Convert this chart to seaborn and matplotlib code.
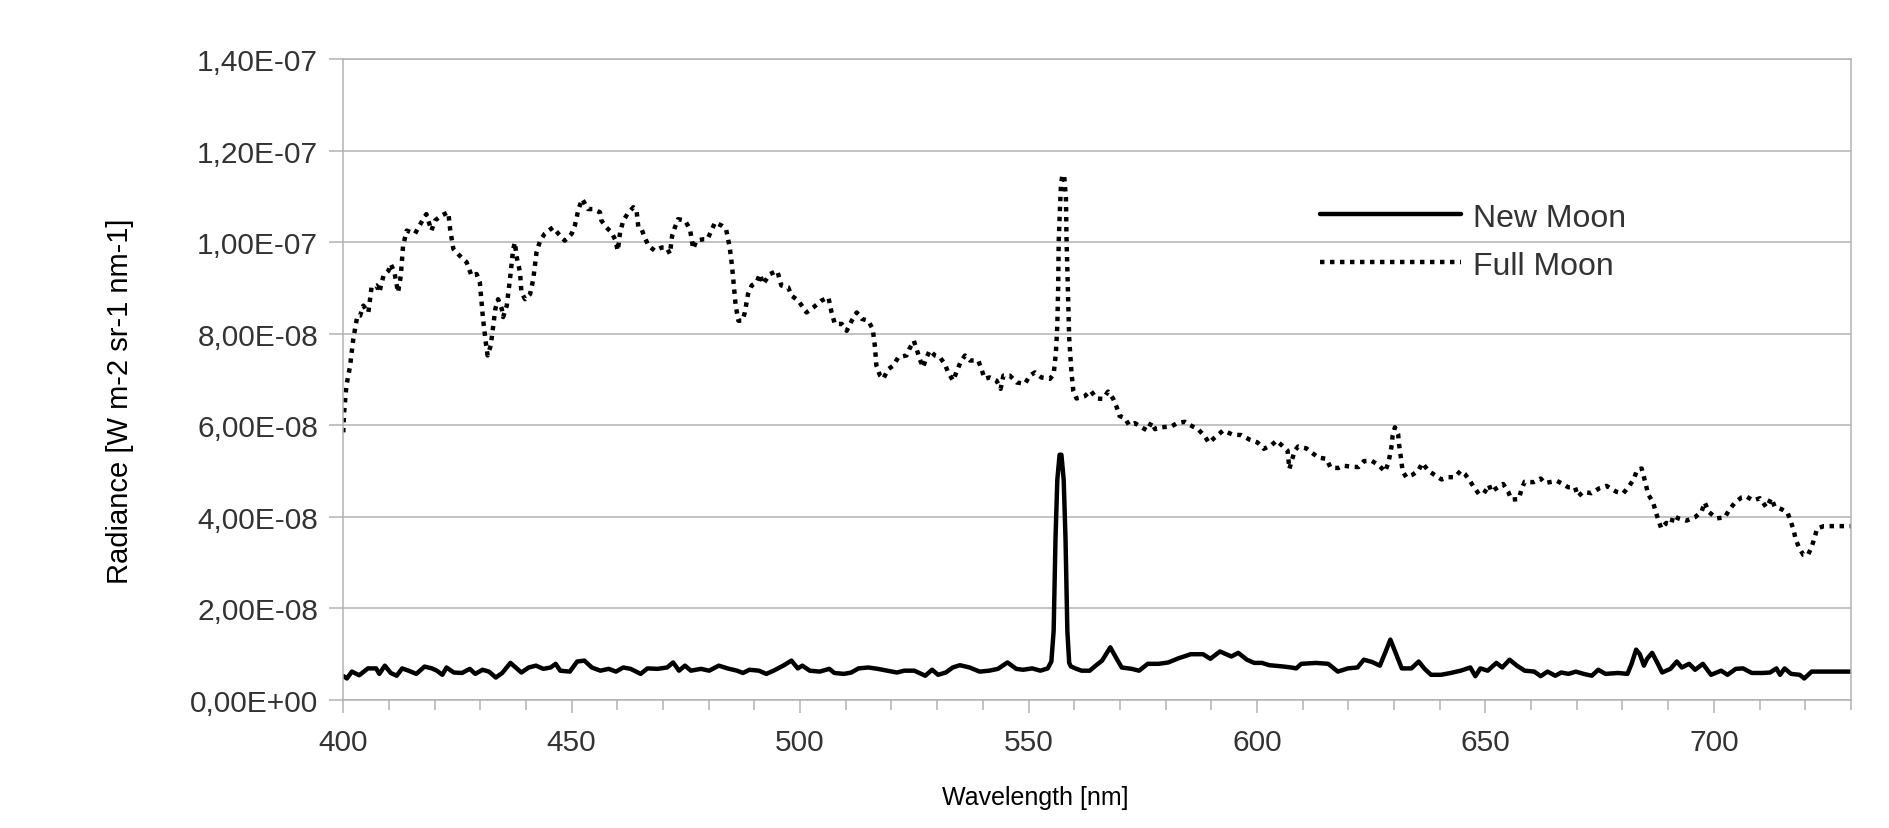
import numpy as np
import pandas as pd
import matplotlib
matplotlib.use("Agg")
import matplotlib.pyplot as plt
import seaborn as sns
from matplotlib.ticker import FuncFormatter, MultipleLocator

# ── Data (radiance in units of 1e-8 W m-2 sr-1 nm-1) ──

full_nm = [
    400.0, 400.2, 400.7, 401.5, 402.2, 402.7, 403.1, 403.7, 404.4, 405.5,
    406.2, 407.3, 407.9, 408.8, 409.9, 410.4, 411.2, 412.0, 412.6, 413.1,
    413.9, 415.7, 417.5, 418.2, 419.3, 420.1, 421.5, 423.0, 423.4, 424.1,
    425.5, 427.0, 428.1, 429.2, 429.9, 430.6, 431.2, 431.6, 432.3, 432.8,
    433.3, 433.9, 434.7, 435.0, 435.8, 436.5, 437.2, 437.6, 437.9, 438.7,
    439.0, 439.8, 440.9, 441.6, 442.3, 443.1, 444.1, 445.9, 447.1, 448.5,
    450.0, 450.7, 451.5, 452.3, 453.6, 454.7, 456.2, 456.5, 457.6, 458.7,
    459.5, 460.1, 460.6, 461.3, 462.2, 463.5, 464.2, 464.6, 465.3, 466.0,
    466.8, 468.2, 469.7, 470.8, 471.5, 472.0, 472.6, 473.3, 474.8, 475.9,
    476.6, 477.3,
    478.8, 479.7, 480.6, 481.4, 482.8, 483.8, 484.6, 485.1, 485.5, 485.9,
    486.5, 487.4, 487.9, 488.6, 489.4, 490.5, 491.2, 491.9, 493.4, 495.0,
    495.9, 497.4, 498.1, 499.6, 501.4, 502.9, 504.7, 506.2, 506.9, 507.6,
    509.1, 510.2, 511.3, 512.4, 513.5, 514.9, 515.9, 516.4, 516.7, 517.5,
    518.2, 519.3, 520.4, 521.5, 523.3, 523.9, 524.9, 525.5, 526.2, 526.9,
    527.7, 528.4, 529.5, 530.6, 531.7, 532.4, 533.5, 534.2, 535.1, 536.1,
    537.2, 539.0, 539.7, 540.4, 541.5, 543.0, 543.9, 544.5, 545.9, 547.4,
    549.2, 550.3, 551.4, 552.8, 554.7, 555.5, 556.0, 556.3, 556.5, 556.6,
    556.9, 557.1, 557.4, 557.8, 558.2, 558.3, 558.5, 558.7, 558.9, 559.4,
    559.8,
    560.5, 562.3, 563.6, 564.9, 566.3, 567.4, 568.5, 569.3, 569.9, 571.1,
    572.0, 573.3, 574.4, 576.0, 576.9, 577.7, 579.1, 581.3, 582.5, 584.2,
    585.3, 587.1, 588.6, 589.5, 590.8, 592.6, 594.7, 596.6, 598.4, 600.1,
    601.5, 603.2, 604.3, 605.4, 606.7, 607.1, 607.6, 608.3, 609.0, 610.8,
    613.4, 615.2, 616.1, 617.8, 618.9, 620.7, 622.2, 623.4, 625.1, 626.8,
    628.0, 628.7, 629.1, 629.5, 629.7, 630.2, 630.9, 631.1, 631.4, 631.9,
    632.7, 634.0, 635.3, 636.2, 637.5, 639.2,
    640.4, 641.9, 643.3, 644.6, 645.5, 646.4, 647.5, 648.6, 649.7, 650.8,
    651.3, 652.3, 653.9, 655.0, 655.7, 657.3, 657.9, 658.6, 660.5, 662.1,
    663.0, 664.5, 665.6, 667.0, 668.1, 669.6, 670.3, 671.4, 673.2, 675.0,
    676.5, 677.8, 678.7, 680.2, 681.5, 682.5, 683.2, 684.2, 685.1, 685.6,
    686.7, 687.3, 687.9, 688.5, 689.6, 690.7, 691.1, 692.2, 694.0, 695.8,
    697.3, 698.0, 698.9, 700.6, 702.4, 703.4, 704.6, 706.1, 707.1, 708.6,
    710.1, 711.5, 712.6, 713.3, 714.8, 716.1, 716.8, 717.5, 717.9, 718.6,
    719.6, 720.6, 721.4, 722.1, 722.6, 724.1, 726.1, 728.3, 730.0,
]
full_val = [
    5.84, 6.28, 6.86, 7.29, 7.88, 8.17, 8.39, 8.39, 8.61, 8.46,
    9.01, 9.05, 8.90, 9.26, 9.37, 9.52, 9.34, 8.90, 9.26, 9.92,
    10.25, 10.18, 10.50, 10.61, 10.25, 10.47, 10.58, 10.65, 10.28, 9.85,
    9.70, 9.56, 9.26, 9.30, 9.12, 8.32, 7.81, 7.52, 7.74, 8.14,
    8.54, 8.75, 8.54, 8.36, 8.61, 9.19, 9.85, 9.99, 9.70, 9.34,
    8.90, 8.75, 8.86, 9.19, 9.77, 10.03, 10.18, 10.32, 10.18, 10.03,
    10.18, 10.36, 10.72, 10.94, 10.72, 10.72, 10.65, 10.47, 10.32, 10.21,
    10.06, 9.81, 10.21, 10.47, 10.61, 10.76, 10.69, 10.32, 10.28, 10.10,
    9.92, 9.81, 9.88, 9.88, 9.74, 10.14, 10.32, 10.50, 10.47, 10.28,
    9.85, 10.03,
    10.06, 10.06, 10.25, 10.43, 10.36, 10.28, 9.88, 9.48, 9.05, 8.61,
    8.28, 8.28, 8.46, 8.86, 9.05, 9.12, 9.30, 9.08, 9.30, 9.37,
    9.05, 9.01, 8.83, 8.72, 8.46, 8.57, 8.72, 8.79, 8.46, 8.21,
    8.21, 8.06, 8.28, 8.46, 8.32, 8.28, 8.10, 7.70, 7.30, 7.08,
    7.01, 7.22, 7.30, 7.48, 7.52, 7.66, 7.84, 7.66, 7.44, 7.26,
    7.48, 7.63, 7.52, 7.48, 7.33, 7.15, 6.97, 7.15, 7.37, 7.52,
    7.41, 7.41, 7.22, 7.01, 7.04, 6.97, 6.79, 7.08, 7.08, 6.93,
    6.90, 7.08, 7.15, 7.04, 7.01, 7.11, 7.59, 8.17, 9.05, 9.99,
    10.79, 11.23, 11.47, 11.45, 10.94, 10.14, 9.41, 8.61, 7.90, 7.15,
    6.75,
    6.58, 6.63, 6.75, 6.58, 6.57, 6.73, 6.58, 6.39, 6.20, 6.15,
    6.00, 6.04, 5.97, 5.88, 6.06, 5.91, 5.95, 5.97, 6.04, 6.07,
    6.00, 5.91, 5.75, 5.61, 5.73, 5.88, 5.79, 5.78, 5.68, 5.62,
    5.48, 5.56, 5.66, 5.56, 5.44, 5.04, 5.22, 5.44, 5.53, 5.49,
    5.29, 5.26, 5.07, 5.06, 5.11, 5.09, 5.08, 5.21, 5.22, 5.11,
    4.98, 5.15, 5.34, 5.56, 5.77, 5.95, 5.80, 5.58, 5.37, 4.98,
    4.86, 4.91, 5.00, 5.17, 5.00, 4.89,
    4.81, 4.86, 4.86, 5.00, 4.93, 4.81, 4.64, 4.49, 4.51, 4.69,
    4.54, 4.61, 4.71, 4.54, 4.37, 4.38, 4.59, 4.76, 4.75, 4.83,
    4.73, 4.76, 4.78, 4.71, 4.64, 4.64, 4.44, 4.54, 4.51, 4.62,
    4.67, 4.59, 4.54, 4.51, 4.67, 4.82, 5.02, 5.05, 4.71, 4.49,
    4.31, 4.10, 3.91, 3.74, 3.86, 3.83, 4.02, 3.96, 3.91, 3.98,
    4.10, 4.31, 4.10, 3.96, 3.98, 4.15, 4.30, 4.42, 4.44, 4.35,
    4.40, 4.20, 4.40, 4.22, 4.16, 4.09, 3.91, 3.69, 3.51, 3.33,
    3.16, 3.16, 3.33, 3.55, 3.74, 3.79, 3.79, 3.79, 3.79,
]

new_nm = [
    400.1, 400.8, 401.9, 403.5, 405.4, 407.2, 407.9, 409.1, 410.4, 411.7,
    412.9, 414.3, 416.0, 417.8, 419.4, 420.5, 421.7, 422.6, 424.2, 426.0,
    427.7, 428.9, 430.5, 431.9, 433.4, 434.8, 436.6, 439.0, 440.6, 442.2,
    443.8, 445.4, 446.5, 447.5, 449.6, 451.2, 452.8, 454.4, 456.3, 458.1,
    459.7, 461.3, 462.9, 465.1, 466.6, 468.8, 470.9, 472.2, 473.5, 474.8,
    476.1, 478.3, 480.1, 482.2, 484.1, 486.2, 487.5, 488.9, 491.0, 492.6,
    494.2, 496.3, 498.1, 499.5, 500.5, 502.1, 504.3, 506.4, 507.5, 509.6,
    511.2, 512.8, 514.9, 517.0, 519.1, 521.2, 522.8, 525.0, 527.4, 528.9,
    530.2, 531.9, 533.4, 535.0, 537.1, 539.3, 541.4, 543.3, 545.4, 547.3,
    548.8, 550.8, 552.6, 554.2, 555.0, 555.5, 555.9, 556.3, 556.8, 557.2,
    557.7, 558.1, 558.5, 558.9, 559.3, 560.5, 561.6, 563.4, 564.7, 566.1,
    567.9, 569.3, 570.4, 572.6, 574.2, 576.1, 578.5, 580.6, 582.8, 585.5,
    588.2, 589.8, 591.9, 594.4, 595.9, 597.8, 599.4, 601.1, 602.7, 605.9,
    607.5, 608.6, 609.7, 612.9, 615.6, 617.7, 619.9, 622.0, 623.4, 625.2,
    626.9, 628.1, 629.2, 630.3, 631.7, 633.8, 635.4, 636.7, 638.1, 640.3,
    642.4, 644.6, 646.7, 647.8, 648.9, 650.5, 652.4, 653.7, 655.3, 656.9,
    658.6, 660.7, 662.1, 663.6, 665.3, 666.6, 668.2, 669.8, 671.5, 673.3,
    674.7, 676.3, 679.0, 681.1, 682.0, 683.0, 683.8, 684.7, 685.4, 686.5,
    687.6, 688.7, 690.5, 691.9, 693.0, 694.6, 695.9, 697.6, 699.4, 701.6,
    703.0, 704.8, 706.4, 708.3, 710.7, 712.3, 713.7, 714.5, 715.5, 716.9,
    718.8, 719.8, 721.4, 723.6, 730.0,
]
new_val = [
    0.51, 0.46, 0.61, 0.53, 0.68, 0.68, 0.56, 0.74, 0.58, 0.52,
    0.68, 0.63, 0.56, 0.72, 0.68, 0.63, 0.54, 0.70, 0.59, 0.58,
    0.67, 0.56, 0.65, 0.61, 0.48, 0.58, 0.80, 0.59, 0.70, 0.74,
    0.67, 0.70, 0.78, 0.63, 0.61, 0.83, 0.85, 0.70, 0.63, 0.67,
    0.61, 0.70, 0.67, 0.56, 0.68, 0.67, 0.70, 0.81, 0.63, 0.74,
    0.63, 0.67, 0.63, 0.74, 0.68, 0.63, 0.58, 0.65, 0.63, 0.56,
    0.63, 0.74, 0.85, 0.68, 0.74, 0.63, 0.61, 0.67, 0.58, 0.56,
    0.59, 0.68, 0.70, 0.67, 0.63, 0.59, 0.63, 0.63, 0.52, 0.65,
    0.54, 0.59, 0.70, 0.75, 0.70, 0.61, 0.63, 0.67, 0.81, 0.67,
    0.65, 0.68, 0.63, 0.68, 0.83, 1.50, 3.50, 4.80, 5.35, 5.35,
    4.80, 3.50, 1.50, 0.80, 0.72, 0.67, 0.63, 0.63, 0.74, 0.85,
    1.14, 0.89, 0.70, 0.67, 0.63, 0.78, 0.78, 0.81, 0.90, 0.99,
    0.99, 0.89, 1.05, 0.94, 1.02, 0.87, 0.80, 0.80, 0.75, 0.72,
    0.70, 0.68, 0.78, 0.80, 0.78, 0.61, 0.68, 0.70, 0.87, 0.82,
    0.74, 1.03, 1.31, 1.03, 0.68, 0.68, 0.83, 0.67, 0.54, 0.54,
    0.58, 0.63, 0.70, 0.51, 0.68, 0.63, 0.80, 0.70, 0.87, 0.74,
    0.63, 0.61, 0.51, 0.61, 0.52, 0.59, 0.56, 0.61, 0.56, 0.52,
    0.65, 0.56, 0.58, 0.56, 0.78, 1.09, 0.99, 0.74, 0.89, 1.02,
    0.81, 0.59, 0.67, 0.83, 0.70, 0.78, 0.65, 0.78, 0.54, 0.63,
    0.54, 0.67, 0.68, 0.58, 0.58, 0.59, 0.68, 0.54, 0.68, 0.56,
    0.54, 0.46, 0.61, 0.61, 0.61,
]

SCALE = 1e-8
GRID = "#b3b3b3"
TEXT = "#333333"


def sci_comma(v, pos):
    return f"{v:.2E}".replace(".", ",")


def main():
    sns.set_theme(style="white")
    plt.rcParams["font.family"] = ["Liberation Sans", "DejaVu Sans"]

    df_new = pd.DataFrame({"nm": new_nm, "rad": np.array(new_val) * SCALE})
    df_full = pd.DataFrame({"nm": full_nm, "rad": np.array(full_val) * SCALE})

    fig = plt.figure(figsize=(18.9, 8.29), dpi=100)
    ax = fig.add_axes([0.1816, 0.155, 0.7977, 0.7726])

    sns.lineplot(data=df_new, x="nm", y="rad", ax=ax, color="black",
                 linewidth=3.2, estimator=None, label="New Moon")
    sns.lineplot(data=df_full, x="nm", y="rad", ax=ax, color="black",
                 linewidth=3.2, estimator=None, label="Full Moon")
    ax.lines[1].set_dashes([1.0, 1.25])

    ax.set_xlim(400, 730)
    ax.set_ylim(0, 1.4e-7)
    ax.xaxis.set_major_locator(MultipleLocator(50))
    ax.xaxis.set_minor_locator(MultipleLocator(10))
    ax.yaxis.set_major_locator(MultipleLocator(2e-8))
    ax.yaxis.set_major_formatter(FuncFormatter(sci_comma))

    ax.grid(axis="y", color=GRID, linewidth=1.1)
    ax.set_axisbelow(True)
    for side in ["left", "right", "bottom", "top"]:
        ax.spines[side].set_color(GRID)
        ax.spines[side].set_linewidth(1.1)

    ax.tick_params(axis="x", which="major", direction="out", length=9.5,
                   width=1.1, color=GRID, pad=11, labelsize=21.5, labelcolor=TEXT,
                   bottom=True)
    ax.tick_params(axis="x", which="minor", direction="out", length=7.2,
                   width=1.1, color=GRID, bottom=True)
    ax.tick_params(axis="y", which="major", direction="out", length=10,
                   width=1.1, color=GRID, pad=8, labelsize=21.5, labelcolor=TEXT,
                   left=True)

    ax.set_xlabel("")
    ax.set_ylabel("")
    fig.text(0.5475, 0.0374, "Wavelength [nm]", ha="center", va="center",
             fontsize=18, color="black")
    fig.text(0.0637, 0.516, "Radiance [W m-2 sr-1 nm-1]", ha="center",
             va="center", rotation=90, fontsize=21, color="black")

    ax.legend(loc="center left", bbox_to_anchor=(0.690, 0.7074),
              bbox_transform=fig.transFigure, frameon=False, fontsize=23,
              handlelength=4.4, handletextpad=0.38, labelspacing=0.56,
              borderpad=0, labelcolor=TEXT)

    fig.savefig("out.png", dpi=100)
    plt.close(fig)


if __name__ == "__main__":
    main()
